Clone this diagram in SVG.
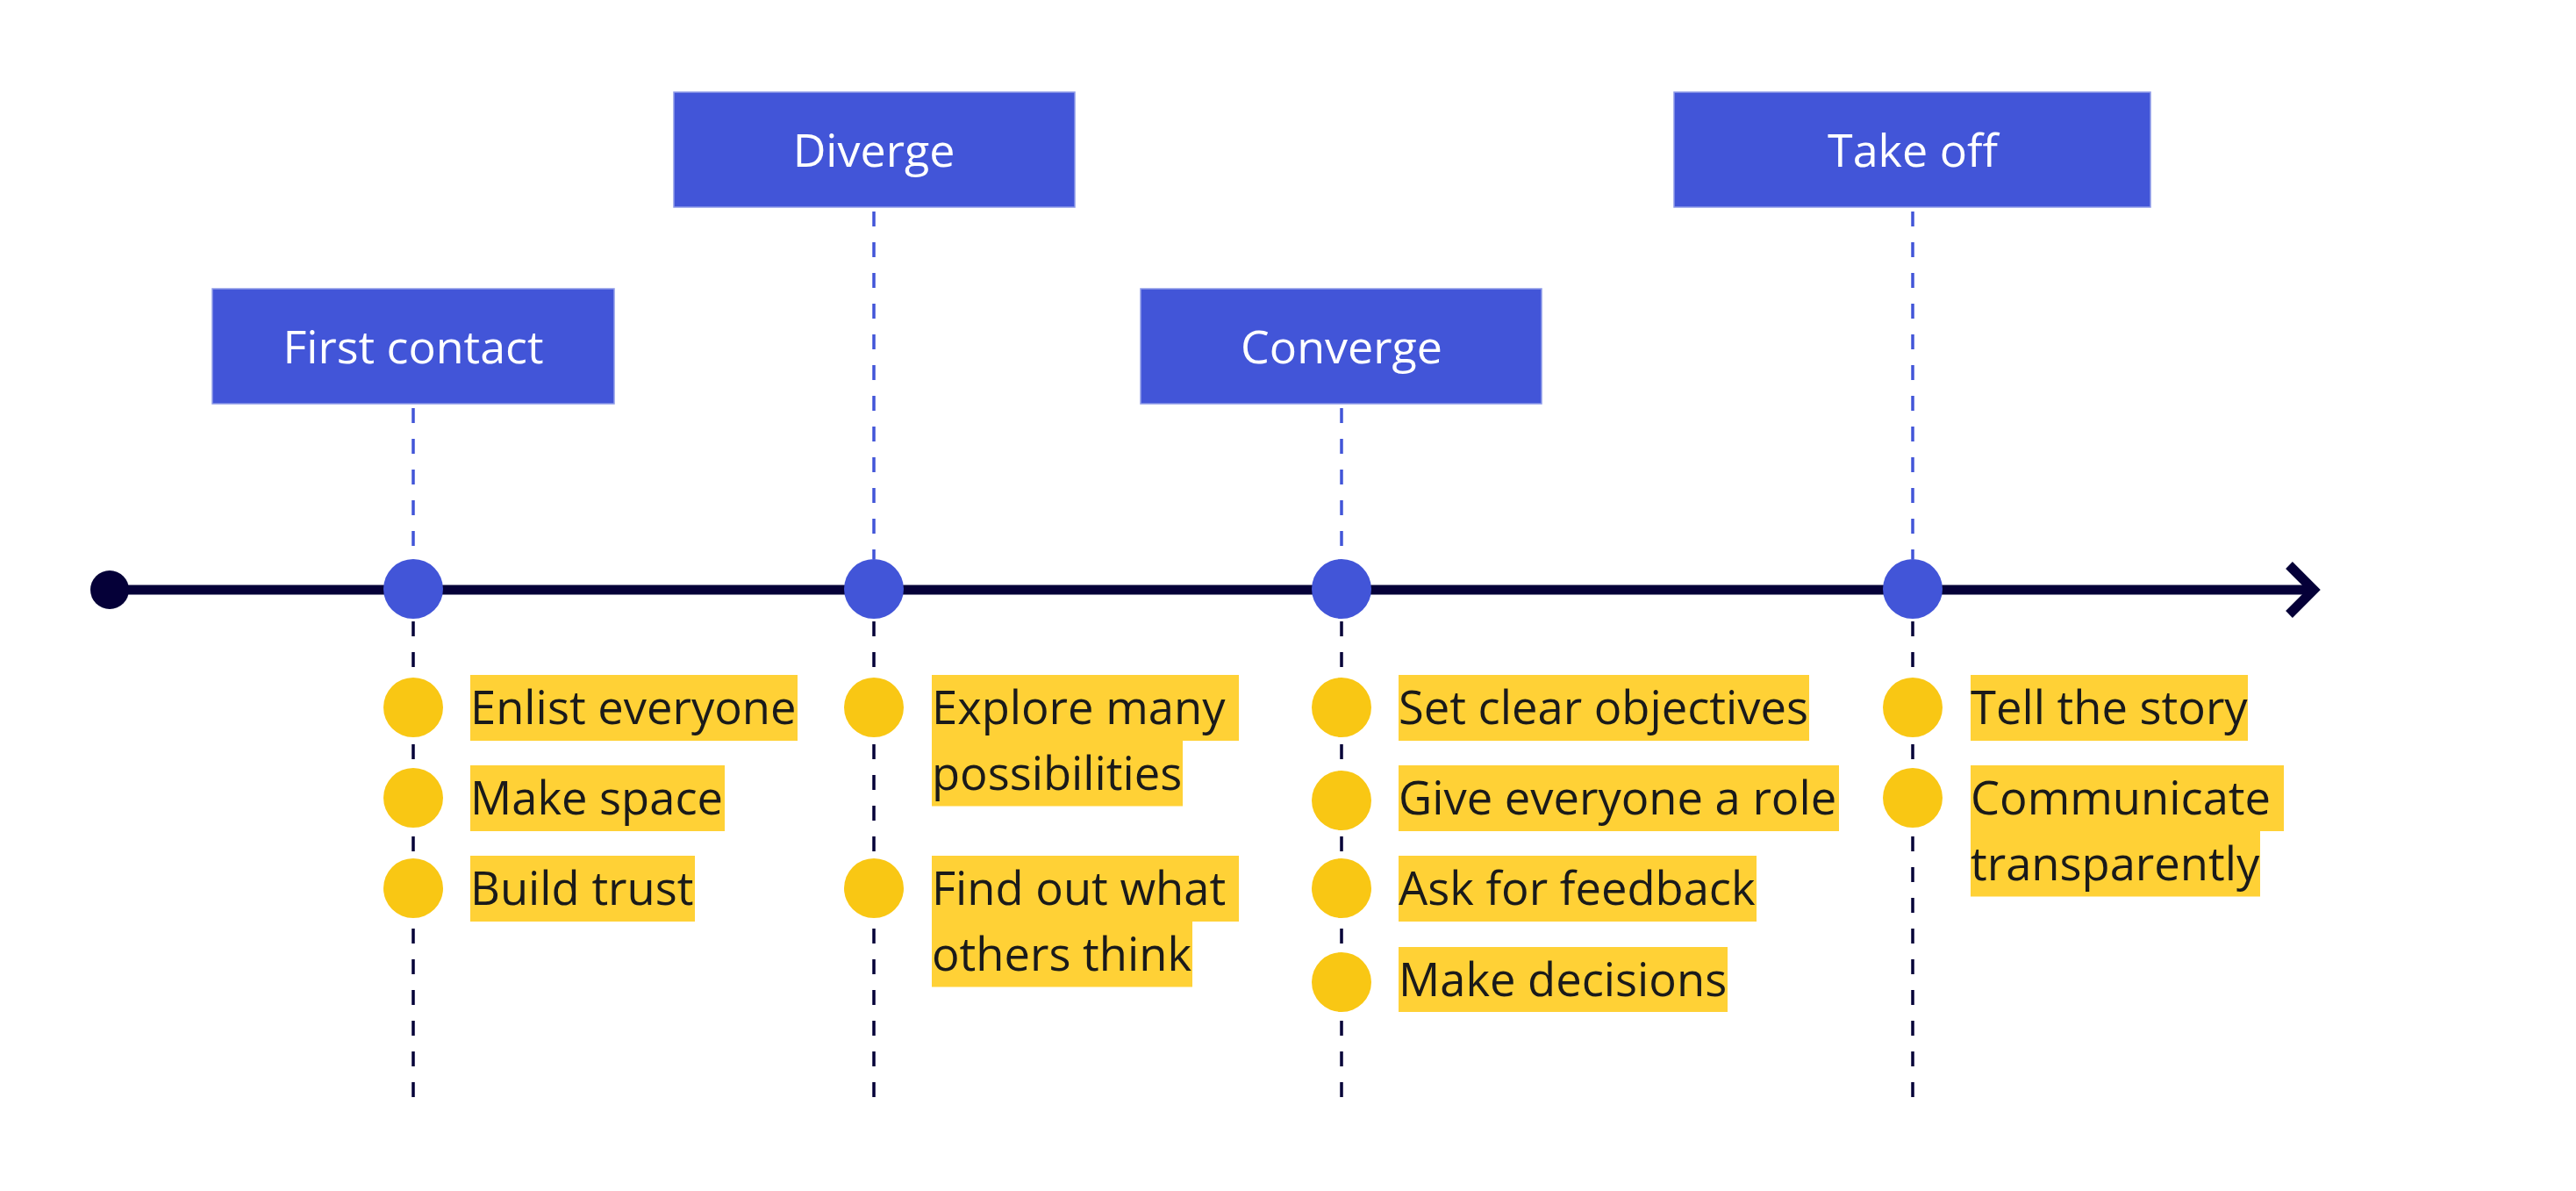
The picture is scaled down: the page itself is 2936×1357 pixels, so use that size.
<svg xmlns="http://www.w3.org/2000/svg" width="2936" height="1357" viewBox="0 0 2936 1357">
<style>
.phase{fill:#4255D8;stroke:#8E9BE8;stroke-width:1.5}
.phase-t{font-family:"Open Sans","Noto Sans",sans-serif;font-size:52px;fill:#FFFFFF;text-anchor:middle}
.hl{fill:#FFD136}
.lbl{font-family:"Open Sans","Noto Sans",sans-serif;font-size:52.5px;fill:#1A1A1A}
.dot{fill:#F9C714}
.hub{fill:#4255D8}
.up{stroke:#4255D8;stroke-width:3.5;stroke-dasharray:17 18;fill:none}
.down{stroke:#050038;stroke-width:3.5;stroke-dasharray:17 18;fill:none}
.axis{stroke:#050038;stroke-width:11;fill:none}
</style>
<rect width="2936" height="1357" fill="#FFFFFF"/>

<g id="connectors">
  <line class="axis" x1="125" y1="672" x2="2634" y2="672"/>
  <polyline class="axis" points="2609,644 2637,672 2609,700" stroke-linejoin="miter" stroke-miterlimit="10"/>
  <line class="up" x1="471" y1="465" x2="471" y2="637"/>
  <line class="up" x1="996" y1="241" x2="996" y2="637"/>
  <line class="up" x1="1529" y1="465" x2="1529" y2="637"/>
  <line class="up" x1="2180" y1="241" x2="2180" y2="637"/>
  <line class="down" x1="471" y1="708" x2="471" y2="1250"/>
  <line class="down" x1="996" y1="708" x2="996" y2="1250"/>
  <line class="down" x1="1529" y1="708" x2="1529" y2="1250"/>
  <line class="down" x1="2180" y1="708" x2="2180" y2="1250"/>
</g>

<g id="start">
  <circle cx="125" cy="672" r="22" fill="#050038"/>
</g>

<g id="first-contact">
  <rect class="phase" x="242" y="329" width="458" height="131"/>
  <text class="phase-t" x="471" y="414">First contact</text>
  <circle class="hub" cx="471" cy="671" r="34"/>
</g>
<g id="diverge">
  <rect class="phase" x="768" y="105" width="457" height="131"/>
  <text class="phase-t" x="996" y="190">Diverge</text>
  <circle class="hub" cx="996" cy="671" r="34"/>
</g>
<g id="converge">
  <rect class="phase" x="1300" y="329" width="457" height="131"/>
  <text class="phase-t" x="1529" y="414">Converge</text>
  <circle class="hub" cx="1529" cy="671" r="34"/>
</g>
<g id="take-off">
  <rect class="phase" x="1908" y="105" width="543" height="131"/>
  <text class="phase-t" x="2180" y="190">Take off</text>
  <circle class="hub" cx="2180" cy="671" r="34"/>
</g>

<g id="enlist-everyone">
  <circle class="dot" cx="471" cy="806" r="34"/>
  <rect class="hl" x="536" y="769" width="373" height="75"/>
  <text class="lbl" x="536" y="825">Enlist everyone</text>
</g>
<g id="make-space">
  <circle class="dot" cx="471" cy="909" r="34"/>
  <rect class="hl" x="536" y="872" width="290" height="75"/>
  <text class="lbl" x="536" y="928">Make space</text>
</g>
<g id="build-trust">
  <circle class="dot" cx="471" cy="1012" r="34"/>
  <rect class="hl" x="536" y="975" width="256" height="75"/>
  <text class="lbl" x="536" y="1031">Build trust</text>
</g>

<g id="explore-many-possibilities">
  <circle class="dot" cx="996" cy="806" r="34"/>
  <rect class="hl" x="1062" y="769" width="350" height="75"/>
  <rect class="hl" x="1062" y="843.5" width="286" height="75"/>
  <text class="lbl" x="1062" y="825">Explore many</text>
  <text class="lbl" x="1062" y="900">possibilities</text>
</g>
<g id="find-out-what-others-think">
  <circle class="dot" cx="996" cy="1012" r="34"/>
  <rect class="hl" x="1062" y="975" width="350" height="75"/>
  <rect class="hl" x="1062" y="1049.5" width="297" height="75"/>
  <text class="lbl" x="1062" y="1031">Find out what</text>
  <text class="lbl" x="1062" y="1106">others think</text>
</g>

<g id="set-clear-objectives">
  <circle class="dot" cx="1529" cy="806" r="34"/>
  <rect class="hl" x="1594" y="769" width="468" height="75"/>
  <text class="lbl" x="1594" y="825">Set clear objectives</text>
</g>
<g id="give-everyone-a-role">
  <circle class="dot" cx="1529" cy="912" r="34"/>
  <rect class="hl" x="1594" y="872" width="502" height="75"/>
  <text class="lbl" x="1594" y="928">Give everyone a role</text>
</g>
<g id="ask-for-feedback">
  <circle class="dot" cx="1529" cy="1012" r="34"/>
  <rect class="hl" x="1594" y="975" width="408" height="75"/>
  <text class="lbl" x="1594" y="1031">Ask for feedback</text>
</g>
<g id="make-decisions">
  <circle class="dot" cx="1529" cy="1119" r="34"/>
  <rect class="hl" x="1594" y="1079" width="375" height="74"/>
  <text class="lbl" x="1594" y="1135">Make decisions</text>
</g>

<g id="tell-the-story">
  <circle class="dot" cx="2180" cy="806" r="34"/>
  <rect class="hl" x="2246" y="769" width="316" height="75"/>
  <text class="lbl" x="2246" y="825">Tell the story</text>
</g>
<g id="communicate-transparently">
  <circle class="dot" cx="2180" cy="909" r="34"/>
  <rect class="hl" x="2246" y="872" width="357" height="75"/>
  <rect class="hl" x="2246" y="946.5" width="330" height="75"/>
  <text class="lbl" x="2246" y="928">Communicate</text>
  <text class="lbl" x="2246" y="1003">transparently</text>
</g>
</svg>
